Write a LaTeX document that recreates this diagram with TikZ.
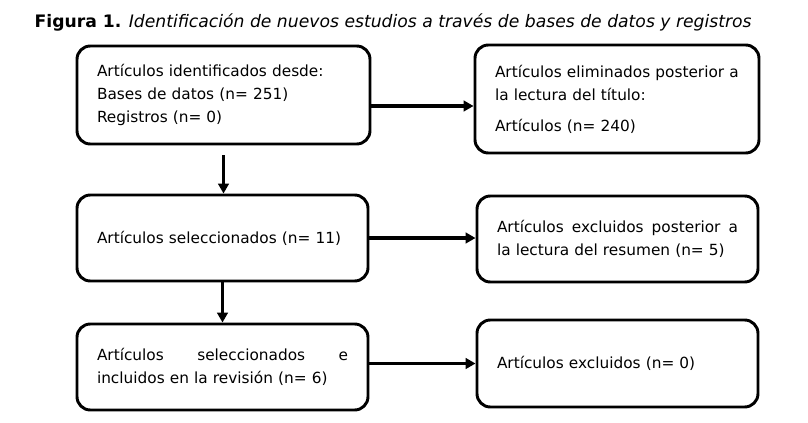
\documentclass[tikz,border=0pt]{standalone}
\usepackage{fontspec}
\setmainfont{DejaVu Sans}
\usetikzlibrary{arrows.meta,calc,positioning}

\begin{document}
\begin{tikzpicture}[x=0.75pt,y=-0.75pt,line join=round,
		caja/.style={draw,line width=2.2pt,rounded corners=10pt,inner xsep=15pt,inner ysep=0pt,align=left,font=\fontsize{11.5}{17.25}\selectfont},
		flecha/.style={line width=2.3pt,-{Triangle[length=7.5pt,width=8pt]}}]
		\useasboundingbox (0,0) rectangle (808,422);
		\node[anchor=west,font=\fontsize{12.9}{15}\selectfont] (tit) at (30,22) {\textbf{Figura 1.} \textit{Identificación de nuevos estudios a través de bases de datos y registros}};
		\node[caja,text width=189.75pt,minimum height=73.5pt] (b1) at (223.5,95) {Artículos identificados desde:\\Bases de datos (n= 251)\\Registros (n= 0)};
		\node[caja,text width=183pt,minimum height=81pt] (b2) at (617,99) {Artículos eliminados posterior a\\la lectura del título:\\[6pt]Artículos (n= 240)};
		\node[caja,text width=188.25pt,minimum height=64.5pt] (b3) at (222.5,238) {Artículos seleccionados (n= 11)};
		\node[caja,text width=180.75pt,minimum height=64.5pt] (b4) at (617.5,239) {Artículos\hfill excluidos\hfill posterior\hfill a\\la lectura del resumen (n= 5)};
		\node[caja,text width=188.25pt,minimum height=64.5pt] (b5) at (222.5,367) {Artículos\hfill seleccionados\hfill e\\incluidos en la revisión (n= 6)};
		\node[caja,text width=180.75pt,minimum height=65.25pt] (b6) at (617.5,363.5) {Artículos excluidos (n= 0)};
		\draw[flecha] ([yshift=-8.25pt]b1.east) -- ([yshift=-8.25pt]b1.east -| b2.west);
		\draw[flecha] (b3.east) -- (b3.east -| b4.west);
		\draw[flecha] (b5.east |- b6.west) -- (b6.west);
		\draw[flecha,shorten <=7.5pt] (b1.south) -- (b1.south |- b3.north);
		\draw[flecha] (b3.south) -- (b3.south |- b5.north);
\end{tikzpicture}
\end{document}
